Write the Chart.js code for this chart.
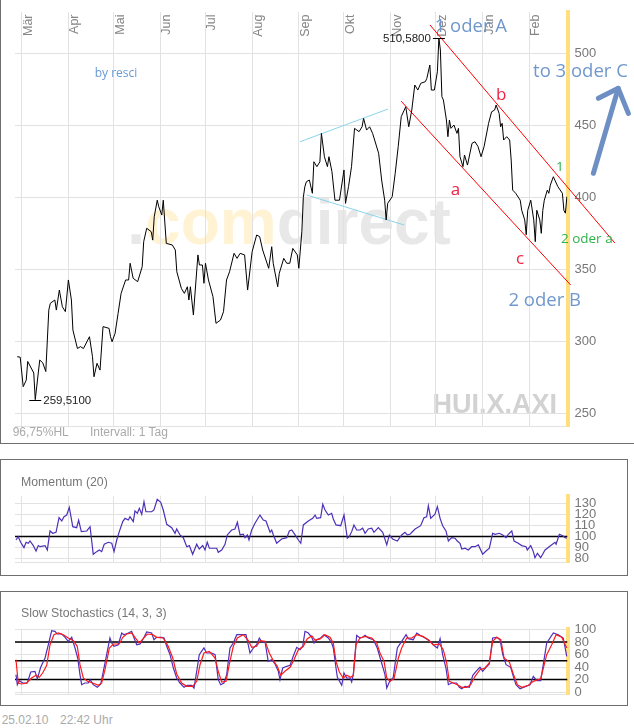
<!DOCTYPE html>
<html><head><meta charset="utf-8">
<script src="https://cdn.jsdelivr.net/npm/chart.js@4.4.1/dist/chart.umd.min.js"></script>
<style>
html,body{margin:0;padding:0;background:#fff;width:634px;height:728px;overflow:hidden;font-family:"Liberation Sans",Arial,sans-serif;}
.box{position:absolute;border:1.5px solid #6e6e6e;box-sizing:border-box;}
canvas{position:absolute;left:0;}
.t{position:absolute;white-space:nowrap;line-height:14px;}
</style></head><body>
<div class="box" style="left:0;top:-4px;width:660px;height:448px"></div>
<div class="box" style="left:0;top:459.3px;width:628.3px;height:116.4px"></div>
<div class="box" style="left:0;top:590.7px;width:628.3px;height:115.6px"></div>
<canvas id="cMain" width="634" height="443" style="top:0"></canvas>
<canvas id="cMom" width="634" height="115" style="top:460px"></canvas>
<canvas id="cSto" width="634" height="114" style="top:591px"></canvas>
<div class="t" style="left:12.7px;top:424.7px;font-size:12px;color:#aaa">96,75%HL</div>
<div class="t" style="left:90px;top:424.7px;font-size:12px;color:#aaa">Intervall: 1 Tag</div>
<div class="t" style="left:21px;top:475px;font-size:12.3px;color:#777">Momentum (20)</div>
<div class="t" style="left:21px;top:606px;font-size:12.3px;color:#777">Slow Stochastics (14, 3, 3)</div>
<div class="t" style="left:1.7px;top:712.7px;font-size:12px;color:#aaa">25.02.10</div>
<div class="t" style="left:60px;top:712.7px;font-size:12px;color:#aaa">22:42 Uhr</div>
<script>
// ---- data (x = days since 2009-03-01) ----
const monthLabels = ['Mär','Apr','Mai','Jun','Jul','Aug','Sep','Okt','Nov','Dez','Jan','Feb'];
const monthStartDays = [0,31,61,92,122,153,184,214,245,275,306,337];

const priceTicks = [250,300,350,400,450,500];
const priceDays = [
 -3,-1,1,3,4,8,9,11,12,14,
 16,18,19,22,23,25,27,29,31,33,
 34,37,39,41,45,47,48,50,52,54,
 58,59,60,62,64,66,69,71,72,74,
 77,80,81,83,86,87,88,90,91,93,
 94,96,100,102,103,106,108,110,111,112,
 114,115,117,118,120,121,122,124,127,129,
 132,134,136,138,141,143,145,148,150,153,
 156,158,160,164,166,167,170,171,174,176,
 178,180,183,184,186,187,188,189,191,193,
 194,196,198,199,201,203,204,206,208,211,
 214,215,217,219,221,224,226,227,229,231,
 233,237,239,241,242,243,246,248,250,252,
 254,255,257,259,261,263,265,268,269,271,
 272,274,276,277,278,279,280,282,283,284,
 285,287,289,290,291,293,294,296,299,301,
 303,305,307,310,312,314,315,317,318,319,
 320,322,324,325,326,328,331,332,334,335,
 336,338,340,341,342,344,345,346,347,349,
 350,351,353,354,356,359,360,361,362];
const priceValues = [
 289.3,289,268.5,273,286,278,259.51,278,287,285,
 279,321.7,326.4,328.7,321.7,335.6,324,320.6,342.6,328.7,
 307.8,295,296.3,295,303.2,289.3,275.4,284.7,280,310.2,
 309,303.2,299.7,305.5,319.4,333.3,342.6,342.6,354.2,343.8,
 341.4,351.8,369.2,378.5,376.1,370.3,386.5,398,393.5,387.7,
 398,368,366.9,363.4,348.3,336.8,333.3,337.9,328.7,337.9,
 318.3,332.2,360,353,353,340.3,354.2,342.6,331,312.5,
 314.8,320.6,342.6,348.3,361.1,357.6,361.1,360,335.6,362.2,
 373.8,372.7,363.4,350.7,365.7,354.2,337.9,347.2,357.6,354.2,
 354.2,364.5,360,350.7,376.1,400,407.4,410.8,412,402.8,
 424.7,421.3,424.7,444.4,428.2,421.3,428.2,417.8,398,398,
 419,395.8,407.4,421.3,447.9,445.6,449,454.8,446.7,449,
 444.4,430.6,412,398,384.3,395.8,400.4,416.7,435.2,456,
 460.6,462.9,449,460.6,478,474.5,479.2,480.3,482.6,491.9,
 474.5,474.5,487.2,510.58,502.3,469.9,467.6,453.7,442.1,453.7,
 447.9,450.2,444.4,447.9,428.2,421.3,429.4,422.4,437.5,438.6,
 435.2,428.2,435.2,451.4,459.4,460.6,464.1,458.3,449,451.4,
 439.8,442.1,439.8,425.9,405,402.8,398,391,384.3,374,
 391,398,384.3,369.2,391,384.3,375,391,398,405,
 402.8,408.5,414.3,412,407.4,402.8,391,389,400.4];

// drawn trend lines (start / end points in days & index points)
const redUpperDays = [271.1, 393.9],  redUpperValues = [519.7, 368.2];
const redLowerDays = [251.9, 364.5],  redLowerValues = [466.8, 339.1];
const cyanUpperDays = [184.8, 243.2], cyanUpperValues = [438.6, 461.3];
const cyanLowerDays = [189.2, 253.9], cyanLowerValues = [401.6, 380.8];
const arrowShaftDays = [379.6, 396.1], arrowShaftValues = [416.7, 475.7];
const arrowHeadDays = [402.8, 396.1, 382.9], arrowHeadValues = [458.3, 475.7, 468.75];

const momTicks = [80,90,100,110,120,130];
const momLevel = 100;
const momDays = [
 -3.8,-2.3,-0.7,1.5,2.9,4.4,5.5,7.7,9.5,11,
 12.2,15.5,17,18.8,20.6,22.8,24.8,26.6,28.1,29.9,
 31.6,33.9,36.5,37.8,39.6,43.2,45.4,47.5,49.8,51.5,
 53.1,54.8,57.5,59.8,61.3,63.1,64.8,67.1,68.6,70.8,
 71.9,74.1,75.2,76.8,78.1,79.7,81.2,82.5,86.3,87.8,
 90,92.3,94,96.3,99.6,101.8,102.9,105.1,107.3,109.6,
 111.3,113.5,116.2,117.9,120.2,121.7,123.2,124.6,129.5,130.5,
 132.8,135,136.5,139.4,141.6,143.2,145,147.1,148.3,149.8,
 150.9,152.7,154.9,158.2,160.4,162.2,164.9,166,167.1,169.3,
 172.6,176,177.7,179.3,181.5,183.7,185.3,187,190.3,193.2,
 194.8,195.9,198.5,199.9,201.4,203.6,205.8,206.9,208.7,211.8,
 214,216.2,217.5,219.1,220.6,222.4,224.6,226.4,228,230.1,
 232.4,233.9,236.8,239.7,242.4,244.1,246.3,249.4,252.3,254.5,
 256,257.8,261.2,264.9,267.1,268.9,270,271.6,274.4,276,
 277.8,279.5,281.7,283.3,285.5,287.7,289.2,291,292.2,294.4,
 296.5,298.8,301,303.2,306.1,308.3,310.5,312.7,314.3,317.1,
 319.4,321.6,323.1,325.4,326.9,329.7,332,334.9,335.7,338,
 339.7,340.8,342.4,344.6,347.5,351.3,354.1,354.8,357,359.2,
 360.8,361.9];
const momValues = [
 96.8,99.8,94.7,89.8,94.7,93.8,95.9,91.7,86.8,91.7,
 90.7,91.7,87.7,105,102.9,103.8,117.1,114.1,118,119.5,
 126.5,108.9,108,114.7,104.4,105,108.9,83.8,86.2,87.7,
 86.2,92.9,94.7,93.8,86.2,96.8,104.4,113.5,116.5,115,
 118,113.5,123.2,121.1,125.6,120.2,131.6,122.5,122.5,124.1,
 133.8,131.1,124.1,111.1,108,102.9,106.8,101.4,98.9,90.7,
 91.7,83.8,92.9,88.6,91.7,87.7,94.7,89.3,89.3,85.6,
 87.7,92.9,101.4,105.9,106.8,112.9,101.4,102,98.9,101.4,
 96.8,105.9,112,119.5,115,114.1,103.8,105.9,101.4,93.8,
 97.7,98.9,105,105.9,101.4,96.8,93.8,110.5,114.1,116.5,
 119.5,116.5,117.1,129.3,124.1,119.5,121.1,115.9,110.5,109.8,
 119.5,98.4,99.8,104.4,110.5,105.9,105.9,107.5,102.9,106.8,
 107.5,103.8,108,103.8,92.3,101.4,97.7,95.9,101.4,103.8,
 101.4,102,106.8,109.8,117.1,118,128,116.5,120.2,127.1,
 116.5,109.8,105,95.9,98.9,98.4,95.9,93.8,88.6,89.3,
 87.7,90.7,90.7,92.3,83.8,86.8,89.3,102.9,102,102.9,
 101.4,98.9,102,105,95.9,93.8,91.7,90.7,87.7,91.7,
 86.2,80.7,84.7,80.7,87.7,91.7,94.7,92.9,102,100.7,
 98.9,98.4];

const stochTicks = [0,20,40,60,80,100];
const stochLevels = [20,50,80];
const stochKDays = [
 -3.8,-2.9,-1.6,0.7,3.7,6,8.8,10.4,12.6,15.5,
 17.7,19.9,22.1,23.6,26.6,28.8,30.9,33.2,35.4,37.2,
 38.7,39.8,42,44.2,45.4,47.5,50.2,52.5,54.2,56.4,
 58.6,59.8,61.3,64.1,66.4,67.9,70.8,73,74.6,76.4,
 78.6,81.2,83,86.3,87.8,89.6,93,94.5,96.3,98.5,
 100.7,102.9,105.1,107.8,110,112.9,114.4,116.2,117.9,121,
 122.8,126.2,128.4,130.5,132.1,134.3,136.1,138.3,140.5,142.8,
 145,148.9,149.8,151.6,153.8,156,157.8,159.4,161.6,163.7,
 166,168.2,170.4,171.5,173.3,176,178.2,180.3,182.6,184.8,
 186.6,188.1,190.3,192.6,194.1,195.9,198.5,200.7,203.6,205.8,
 206.9,208.7,209.6,212.5,214,215.8,218,219.1,220.2,222.4,
 224.6,226.4,228,230.1,233.5,236.1,239,241.2,242.4,244.1,
 246.7,249.4,252.3,255.2,256.7,260,262.3,264.5,267.8,271.1,
 274.4,276,277.8,279.5,281.7,283.3,285.5,288.8,290.6,292.2,
 294.4,297.2,299.5,302.1,304.3,306.1,308.3,310.5,312.7,315.4,
 317.6,319.4,321.6,324.7,326.4,328.2,330.9,333.5,337.5,339.7,
 342,344.6,348.6,353,356.3,359.6,361.9];
const stochK = [
 27.7,11.7,18.1,14.4,14.4,32,33.1,21.3,39.5,54.4,
 75.7,98.1,97.1,92.8,92.8,87.5,81.1,87.5,70.4,54.4,
 27.7,11.7,14.4,14.4,19.7,11.7,7.5,12.8,33.1,59.7,
 86.4,78.4,73.1,75.7,94.4,91.7,94.4,97.1,86.4,75.7,
 76.8,87.5,96,94.4,83.7,87.5,87.5,86.4,73.1,59.7,
 38.4,22.4,14.4,7.5,10.7,10.7,6.4,33.1,59.7,70.4,
 62.4,62.4,59.7,19.7,11.7,14.4,27.7,70.4,78.4,91.7,
 91.7,91.7,82.1,62.4,70.4,75.7,86.4,80,80,49.1,
 51.7,44.8,33.1,19.7,38.4,41.1,42.7,57.1,71.5,67.7,
 73.1,97.1,94.4,87.5,78.4,83.7,86.4,91.7,86.4,78.4,
 70.4,38.4,23.5,10.7,30.4,22.4,22.4,16,28.8,90.7,
 86.4,87.5,90.7,86.4,83.7,70.4,46.4,27.7,6.4,16,
 23.5,70.4,81.1,91.7,85.3,83.7,94.4,90.7,86.4,81.1,
 73.1,70.4,85.3,59.7,38.4,11.7,14.4,14.4,7.5,5.3,
 9.1,7.5,26.7,34.1,39.5,33.1,39.5,44.8,86.4,87.5,
 83.7,59.7,43.7,39.5,25.1,11.7,5.3,7.5,11.7,25.1,
 18.1,18.1,78.4,94.4,91.7,86.4,57.1];
const stochDDays = [
 -3.8,-2.3,0,3.3,6.6,9.5,11.7,13.9,16.6,18.8,
 21.4,24.3,27.6,30.9,34.3,36.9,38.7,40.9,43.6,47.1,
 50.9,53.1,55.3,58.2,60.8,64.8,67.1,69.7,73,75.2,
 78.1,80.7,83.4,87,89.6,94,97.3,100.3,102.9,106.2,
 109.6,113.5,116.2,118.4,121,124.6,128.4,130.5,132.8,135.7,
 137.8,140.5,143.2,147.1,150.5,152.7,156,158.2,161.6,164.4,
 167.1,169.7,172,174.8,178.2,180.8,183.7,187,189.5,192.6,
 194.8,198.1,201.4,204.7,206.9,208.7,210.9,213.5,215.8,218.5,
 220.2,222,224.6,228,232.4,235.7,237.9,240.6,242.4,244.6,
 247.2,250.1,252.3,255.6,259,262.3,266.3,270,273.3,277.3,
 279.9,282.2,283.9,286.6,289.2,292.2,295.5,298.1,301,304.3,
 307.6,310.5,312.7,315.4,318.1,320.3,323.8,326.4,329.1,332,
 336.4,339.7,344.6,348.6,351.9,354.8,358.6,361.9];
const stochD = [
 51.7,14.4,12.8,14.4,22.4,26.7,23.5,30.4,42.7,75.7,
 91.7,94.4,91.7,86.4,82.1,73.1,43.7,22.4,17.1,14.4,
 10.7,14.4,35.7,70.4,76.8,76.8,87.5,92.8,94.4,87.5,
 78.4,85.3,92.8,91.7,87.5,86.4,73.1,54.4,28.8,14.4,
 9.1,9.1,17.1,43.7,62.4,65.1,54.4,33.1,16,17.1,
 43.7,73.1,86.4,91.7,82.1,71.5,73.1,82.1,81.1,62.4,
 50.1,41.1,26.7,33.1,39.5,51.7,67.7,73.1,85,90,
 82.9,85,91.7,87.5,78.4,49.1,32,22.4,26.7,23.5,
 26.7,75.7,86.4,89.1,86.4,78.4,62.4,49.1,22.4,17.1,
 21.3,54.4,70.4,86.4,86.4,91.7,89.1,83.7,75.2,76.8,
 67.7,46.4,17.1,14.4,11.7,7.5,7.5,11.7,25.1,35.7,
 38.4,46.4,81.1,87.5,83.7,54.4,48,28.8,11.7,7.5,
 10.7,17.1,21.3,59.7,75.7,91.7,87.5,70.4];

// ---- styling / layout ----
const FONT = '"Liberation Sans", Arial, sans-serif';
const OPEN = '"Open Sans", "Liberation Sans", sans-serif';
const GRID = '#e2e2e2';
const YELLOW = '#ffdf7e';
const X_MIN = -4.45, X_MAX = 362.4;
const AXIS_W = 66.5;
Chart.defaults.font.family = FONT;

function pts(xs, ys){ return xs.map((d,i)=>({x:d, y:ys[i]})); }
function line(xs, ys, color, width, extra){
  return Object.assign({type:'line', data:pts(xs,ys), borderColor:color, borderWidth:width,
    pointRadius:0, pointHoverRadius:0, tension:0, fill:false}, extra||{});
}
function levelLine(v, color, width){
  return line([X_MIN, X_MAX], [v, v], color, width);
}
function baseOptions(pad, yMin, yMax, yTicks){
  return {
    responsive:false, animation:false, events:[],
    layout:{padding:pad},
    plugins:{legend:{display:false}, tooltip:{enabled:false}},
    scales:{
      x:{type:'linear', min:X_MIN, max:X_MAX,
        afterBuildTicks:s=>{ s.ticks = monthStartDays.map(v=>({value:v})); },
        afterFit:s=>{ s.height = 0; s.paddingLeft = 0; s.paddingRight = 0; },
        ticks:{display:false},
        grid:{color:GRID, lineWidth:1, drawTicks:false},
        border:{display:true, color:GRID, width:1}},
      y:{type:'linear', position:'right', min:yMin, max:yMax,
        afterBuildTicks:s=>{ s.ticks = yTicks.map(v=>({value:v})); },
        afterFit:s=>{ s.width = AXIS_W; s.paddingTop = 0; s.paddingBottom = 0; },
        ticks:{color:'#777', font:{size:13, family:FONT}, padding:7, autoSkip:false},
        grid:{color:GRID, lineWidth:1, drawTicks:false},
        border:{display:true, color:YELLOW, width:4}}
    }
  };
}

// annotations (anchored in data coordinates)
const notes = [
  {t:'by resci',    d:62.6,  v:483.9, font:'12px '+OPEN,   color:'#6699d6'},
  {t:'1 oder A',    d:298.2, v:515.0, font:'18.5px '+OPEN, color:'#7098cc'},
  {t:'to 3 oder C', d:371.0, v:483.3, font:'18.5px '+OPEN, color:'#7098cc'},
  {t:'2 oder B',    d:347.3, v:324.5, font:'18.5px '+OPEN, color:'#7098cc'},
  {t:'b',           d:318.3, v:467.6, font:'17px '+OPEN,   color:'#ee2244'},
  {t:'a',           d:288.0, v:401.6, font:'17px '+OPEN,   color:'#ee2244'},
  {t:'c',           d:330.9, v:353.6, font:'17px '+OPEN,   color:'#ee2244'},
  {t:'1',           d:357.4, v:418.5, font:'13.5px '+OPEN, color:'#2db34a'},
  {t:'2 oder a',    d:375.2, v:368.3, font:'13.5px '+OPEN, color:'#2db34a'}
];

const watermarkPlugin = {
  id:'watermark',
  beforeDraw(chart){
    const {ctx, scales:{x,y}} = chart;
    ctx.save();
    ctx.textBaseline = 'alphabetic';
    ctx.font = 'bold 64px ' + FONT;
    let px = x.getPixelForValue(70.1);
    const py = y.getPixelForValue(367.9);
    [['.', '#e8e8e8'], ['com', '#fff3d3'], ['direct', '#e8e8e8']].forEach(([t,c])=>{
      ctx.fillStyle = c; ctx.fillText(t, px, py); px += ctx.measureText(t).width;
    });
    ctx.font = 'bold 27px ' + FONT;
    ctx.fillStyle = '#d2d2d2';
    ctx.textAlign = 'right';
    ctx.fillText('HUI.X.AXI', x.getPixelForValue(355.4), y.getPixelForValue(250.2));
    ctx.restore();
  }
};
const monthPlugin = {
  id:'months',
  beforeDatasetsDraw(chart){
    const {ctx, chartArea, scales:{x}} = chart;
    ctx.save();
    ctx.fillStyle = '#858585';
    ctx.font = '12.5px ' + FONT;
    ctx.textAlign = 'right';
    ctx.textBaseline = 'alphabetic';
    monthStartDays.forEach((d,i)=>{
      const px = x.getPixelForValue(d);
      ctx.save();
      ctx.translate(px + 10, chartArea.top + 2.5);
      ctx.rotate(-Math.PI/2);
      ctx.fillText(monthLabels[i], 0, 0);
      ctx.restore();
    });
    ctx.restore();
  }
};
const notesPlugin = {
  id:'notes',
  afterDatasetsDraw(chart){
    const {ctx, scales:{x,y}} = chart;
    ctx.save();
    ctx.textAlign = 'center';
    ctx.textBaseline = 'alphabetic';
    notes.forEach(n=>{
      ctx.font = n.font; ctx.fillStyle = n.color;
      ctx.fillText(n.t, x.getPixelForValue(n.d), y.getPixelForValue(n.v));
    });
    // extreme value markers
    let hi = 0, lo = 0;
    priceValues.forEach((v,i)=>{ if (v > priceValues[hi]) hi = i; if (v < priceValues[lo]) lo = i; });
    ctx.strokeStyle = '#000'; ctx.lineWidth = 1; ctx.fillStyle = '#222';
    ctx.font = '11.5px ' + FONT; ctx.textBaseline = 'middle';
    const mark = (i, side)=>{
      const px = x.getPixelForValue(priceDays[i]);
      const py = Math.round(y.getPixelForValue(priceValues[i])) + 0.5;
      ctx.beginPath(); ctx.moveTo(px - 6, py); ctx.lineTo(px + 6, py); ctx.stroke();
      ctx.textAlign = side < 0 ? 'right' : 'left';
      ctx.fillText(priceValues[i].toFixed(4).replace('.', ','), px + side * 8, py);
    };
    mark(hi, -1); mark(lo, 1);
    ctx.restore();
  }
};

const charts = [];
const ARROW = '#6e8fc3';
const arrowOpts = {clip:false, borderCapStyle:'round', borderJoinStyle:'round'};

charts.push(new Chart(document.getElementById('cMain'), {
  type:'line',
  data:{datasets:[
    line(priceDays, priceValues, '#000', 1),
    line(redUpperDays, redUpperValues, '#ff0000', 1, {clip:false}),
    line(redLowerDays, redLowerValues, '#ff0000', 1, {clip:false}),
    line(cyanUpperDays, cyanUpperValues, '#8ad4ea', 1),
    line(cyanLowerDays, cyanLowerValues, '#8ad4ea', 1),
    line(arrowShaftDays, arrowShaftValues, ARROW, 5, arrowOpts),
    line(arrowHeadDays, arrowHeadValues, ARROW, 5, arrowOpts)
  ]},
  options: baseOptions({top:12, bottom:16.3, left:15, right:0}, 240.7, 528.7, priceTicks),
  plugins:[watermarkPlugin, monthPlugin, notesPlugin]
}));

charts.push(new Chart(document.getElementById('cMom'), {
  type:'line',
  data:{datasets:[
    line(momDays, momValues, '#4d2fb8', 1.2),
    levelLine(momLevel, '#000', 1.5)
  ]},
  options: baseOptions({top:35.7, bottom:12.7, left:15, right:0}, 76.5, 137.1, momTicks)
}));

charts.push(new Chart(document.getElementById('cSto'), {
  type:'line',
  data:{datasets:[
    line(stochDDays, stochD, '#ff1a1a', 1.2),
    line(stochKDays, stochK, '#4d2fb8', 1.2),
    ...stochLevels.map(l=>levelLine(l, '#000', 1.5))
  ]},
  options: baseOptions({top:37.7, bottom:11, left:15, right:0}, -3.2, 101.3, stochTicks)
}));

if (document.fonts && document.fonts.ready) {
  document.fonts.ready.then(()=>charts.forEach(c=>c.draw()));
}
</script>
</body></html>
